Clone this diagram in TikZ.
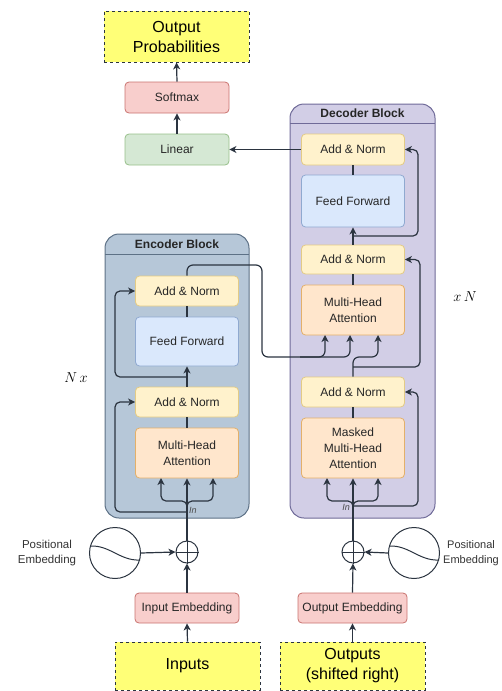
\documentclass[tikz,border=0pt]{standalone}
\usepackage{fontspec}
\setmainfont{Liberation Sans}
\usetikzlibrary{arrows.meta}

\definecolor{linec}{HTML}{2B3440}
\definecolor{encfill}{HTML}{B6C7D8}
\definecolor{encdraw}{HTML}{5D7186}
\definecolor{decfill}{HTML}{D2CEE6}
\definecolor{decdraw}{HTML}{6F6A98}
\definecolor{anfill}{HTML}{FFF2CC}
\definecolor{andraw}{HTML}{E3CB85}
\definecolor{fffill}{HTML}{DAE8FC}
\definecolor{ffdraw}{HTML}{8FA9D0}
\definecolor{mhafill}{HTML}{FFE6CC}
\definecolor{mhadraw}{HTML}{E3B06A}
\definecolor{redfill}{HTML}{F8CECC}
\definecolor{reddraw}{HTML}{C9736F}
\definecolor{grnfill}{HTML}{D5E8D4}
\definecolor{grndraw}{HTML}{97C08A}
\definecolor{yelfill}{HTML}{FFFF77}

\tikzset{
  base/.style={rectangle, rounded corners=4pt, line width=0.8pt, align=center,
    font=\fontsize{12}{16}\selectfont, text=black!85},
  anbox/.style={base, fill=anfill, draw=andraw, minimum width=103pt, minimum height=30pt},
  ffbox/.style={base, fill=fffill, draw=ffdraw, minimum width=103pt},
  mhabox/.style={base, fill=mhafill, draw=mhadraw, minimum width=103pt},
  redbox/.style={base, fill=redfill, draw=reddraw, minimum height=31pt},
  grnbox/.style={base, fill=grnfill, draw=grndraw, minimum height=31pt},
  iobox/.style={rectangle, fill=yelfill, draw=linec, dashed, line width=0.8pt,
    align=center, font=\fontsize{16}{20}\selectfont, minimum width=145pt},
  blockbox/.style={rectangle, rounded corners=14pt, line width=1pt},
  blocktitle/.style={font=\bfseries\fontsize{12}{14}\selectfont, text=black!85},
  conn/.style={draw=linec, line width=1.2pt},
  arr/.style={conn, -{Stealth[length=7pt,width=7pt,inset=2pt]}},
  plusnode/.style={circle, draw=linec, line width=1pt, minimum size=22pt, inner sep=0pt},
  pecircle/.style={circle, draw=linec, line width=1pt, minimum size=51pt, inner sep=0pt},
  pelabel/.style={align=center, font=\fontsize{11.5}{15}\selectfont, text=black!80},
  inlabel/.style={font=\itshape\fontsize{9}{10}\selectfont, text=black!70, inner sep=1pt},
  reps/.style={font=\fontsize{14}{16}\selectfont}
}

\begin{document}
\begin{tikzpicture}[x=1pt,y=-1pt]
\useasboundingbox (0,0) rectangle (502,691);

% ---------- block containers ----------
\node[blockbox, fill=encfill, draw=encdraw, minimum width=144pt, minimum height=284pt] (enc) at (177,376) {};
\draw[encdraw, line width=1pt] (105,254) -- (249,254);
\node[blocktitle] (enctitle) at (177,244) {Encoder Block};

\node[blockbox, fill=decfill, draw=decdraw, minimum width=145pt, minimum height=414pt] (dec) at (362.5,311) {};
\draw[decdraw, line width=1pt] (290,123) -- (435,123);
\node[blocktitle] (dectitle) at (362.5,113) {Decoder Block};

% ---------- output head ----------
\node[iobox, minimum height=51pt] (outprob) at (176.5,36.5) {Output\\Probabilities};
\node[redbox, minimum width=104pt] (softmax) at (177,97.5) {Softmax};
\node[grnbox, minimum width=104pt] (linear) at (177,149.5) {Linear};

% ---------- encoder layer ----------
\node[anbox] (an1) at (187,291) {Add \& Norm};
\node[ffbox, minimum height=49pt] (ff) at (187,341.5) {Feed Forward};
\node[anbox] (an2) at (187,402) {Add \& Norm};
\node[mhabox, minimum height=50pt] (mha) at (187,453) {Multi-Head\\Attention};

% ---------- decoder layer ----------
\node[anbox, minimum height=31pt] (dan3) at (353,149.5) {Add \& Norm};
\node[ffbox, minimum height=52pt] (dff) at (353,201) {Feed Forward};
\node[anbox, minimum height=29pt] (dan2) at (353,259.5) {Add \& Norm};
\node[mhabox, minimum height=50pt] (dmha) at (353,310) {Multi-Head\\Attention};
\node[anbox] (dan1) at (353,392) {Add \& Norm};
\node[mhabox, minimum height=60pt] (dmmha) at (353,448) {Masked\\Multi-Head\\Attention};

% ---------- embeddings and inputs ----------
\node[plusnode] (plusE) at (187,552) {};
\draw[linec, line width=1pt] (plusE.north) -- (plusE.south) (plusE.west) -- (plusE.east);
\node[plusnode] (plusD) at (353,552) {};
\draw[linec, line width=1pt] (plusD.north) -- (plusD.south) (plusD.west) -- (plusD.east);

\node[pecircle] (peE) at (115,553) {};
\draw[linec, line width=1pt] (90,546) .. controls (110,545) and (120,561) .. (140,560);
\node[pecircle] (peD) at (414,553) {};
\draw[linec, line width=1pt] (389,546) .. controls (409,545) and (419,561) .. (439,560);

\node[pelabel] (peEl) at (47,553) {Positional\\Embedding};
\node[pelabel, anchor=west, inner sep=0pt, font=\fontsize{11}{15}\selectfont] (peDl) at (443,553) {Positional\\Embedding};

\node[redbox, minimum width=104pt, minimum height=30pt] (inemb) at (187,608) {Input Embedding};
\node[redbox, minimum width=109pt, minimum height=30pt] (outemb) at (352.5,608) {Output Embedding};

\node[iobox, minimum height=48pt] (inputs) at (187.5,666) {Inputs};
\node[iobox, minimum height=48pt] (outputs) at (352.5,666) {Outputs\\(shifted right)};

% ---------- repetition marks ----------
\node[reps] (nx) at (76,378) {$N\,x$};
\node[reps] (xn) at (465,297) {$x\,N$};

% ---------- input labels ----------
\node[inlabel, anchor=west] (inE) at (188,510) {In};
\node[inlabel, anchor=east] (inD) at (351,507) {In};

% ---------- arrow ends ----------
\coordinate (eQ) at (161,478);
\coordinate (eV) at (213,478);
\coordinate (dQ) at (327,478);
\coordinate (dV) at (378,478);
\coordinate (xK) at (325,335);
\coordinate (xV) at (350,335);
\coordinate (xQ) at (378,335);
\coordinate (eStart) at (187,514);
\coordinate (dStart) at (353,514);

% ---------- output head connectors ----------
\draw[arr] (softmax.north) -- (outprob.south);
\draw[arr] (linear.north) -- (softmax.south);
\draw[arr] (dan3.west) -- (linear.east);

% ---------- encoder connectors ----------
\draw[arr] (inputs.north) -- (inemb.south);
\draw[arr] (inemb.north) -- (plusE.south);
\draw[arr] (peE.east) -- (plusE.west);
\draw[arr] (plusE.north) -- (mha.south);
\draw[arr, rounded corners=5pt] (eStart) -- (187,501) -- (161,501) -- (eQ);
\draw[arr, rounded corners=5pt] (eStart) -- (187,501) -- (213,501) -- (eV);
\draw[arr, rounded corners=5pt] (187,512) -- (115,512) -- (115,402) -- (an2.west);
\draw[conn] (mha.north) -- (an2.south);
\draw[arr] (an2.north) -- (ff.south);
\draw[arr, rounded corners=5pt] (187,377) -- (115,377) -- (115,291) -- (an1.west);
\draw[conn] (ff.north) -- (an1.south);

% encoder output into the decoder cross attention
\draw[arr, rounded corners=6pt] (an1.north) -- (187,265) -- (262,265) -- (262,357) -- (350,357) -- (xV);
\draw[arr, rounded corners=6pt] (300,357) -- (325,357) -- (xK);

% ---------- decoder connectors ----------
\draw[arr] (outputs.north) -- (outemb.south);
\draw[arr] (outemb.north) -- (plusD.south);
\draw[arr] (peD.west) -- (plusD.east);
\draw[arr] (plusD.north) -- (dmmha.south);
\draw[arr, rounded corners=5pt] (dStart) -- (353,501) -- (327,501) -- (dQ);
\draw[arr, rounded corners=5pt] (dStart) -- (353,501) -- (378,501) -- (dV);
\draw[arr, rounded corners=5pt] (353,506) -- (418,506) -- (418,392) -- (dan1.east);
\draw[conn] (dmmha.north) -- (dan1.south);
\draw[arr, rounded corners=6pt] (dan1.north) -- (353,357) -- (378,357) -- (xQ);
\draw[arr, rounded corners=5pt] (353,367) -- (420,367) -- (420,259.5) -- (dan2.east);
\draw[conn] (dmha.north) -- (dan2.south);
\draw[arr] (dan2.north) -- (dff.south);
\draw[arr, rounded corners=5pt] (353,236) -- (418,236) -- (418,149.5) -- (dan3.east);
\draw[conn] (dff.north) -- (dan3.south);

\end{tikzpicture}
\end{document}
